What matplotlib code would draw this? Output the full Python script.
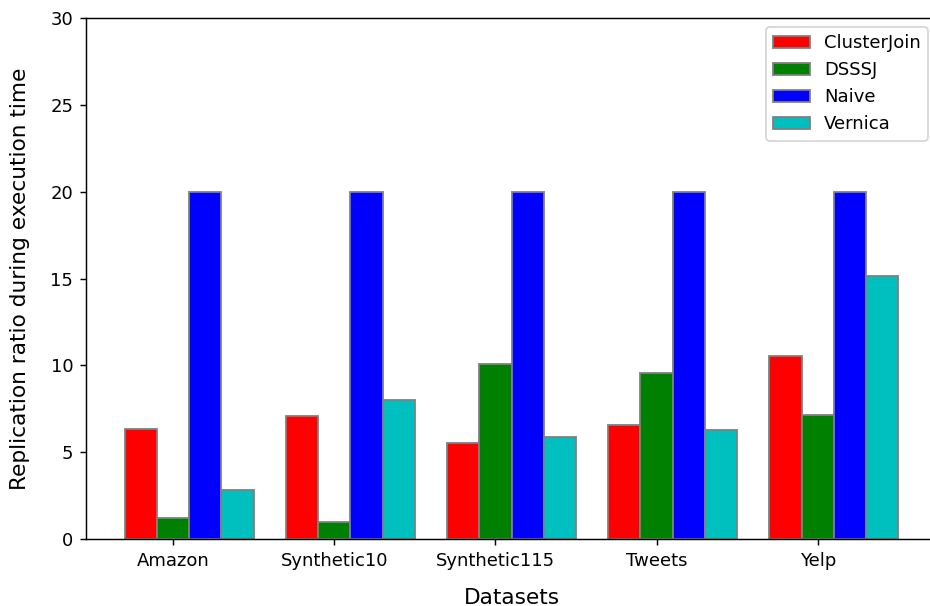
import numpy as np
import matplotlib
matplotlib.use('Agg')
import matplotlib.pyplot as plt

datasets = ['Amazon', 'Synthetic10', 'Synthetic115', 'Tweets', 'Yelp']
cluster_join = [6.31, 7.10, 5.51, 6.58, 10.51]
dsssj = [1.21, 0.98, 10.07, 9.53, 7.13]
naive = [20, 20, 20, 20, 20]
vernica = [2.80, 8.0, 5.87, 6.29, 15.17]

bar_width = 0.2
r1 = np.arange(len(datasets))
r2 = r1 + bar_width
r3 = r2 + bar_width
r4 = r3 + bar_width

dpi = 130
fig = plt.figure(figsize=(930 / dpi, 606 / dpi), dpi=dpi)
ax = fig.add_axes([86 / 930, 67 / 606, 851 / 930, 521 / 606])

ax.bar(r1, cluster_join, color='r', width=bar_width, edgecolor='grey', label='ClusterJoin')
ax.bar(r2, dsssj, color='g', width=bar_width, edgecolor='grey', label='DSSSJ')
ax.bar(r3, naive, color='b', width=bar_width, edgecolor='grey', label='Naive')
ax.bar(r4, vernica, color='c', width=bar_width, edgecolor='grey', label='Vernica')

ax.set_xlabel('Datasets', fontsize=12, labelpad=10)
ax.set_ylabel('Replication ratio during execution time', fontsize=12, labelpad=11)
ax.set_xticks(r1 + bar_width)
ax.set_xticklabels(datasets)
ax.set_ylim(0, 30)
ax.legend(loc='upper right')

fig.savefig('out.png', dpi=dpi)
